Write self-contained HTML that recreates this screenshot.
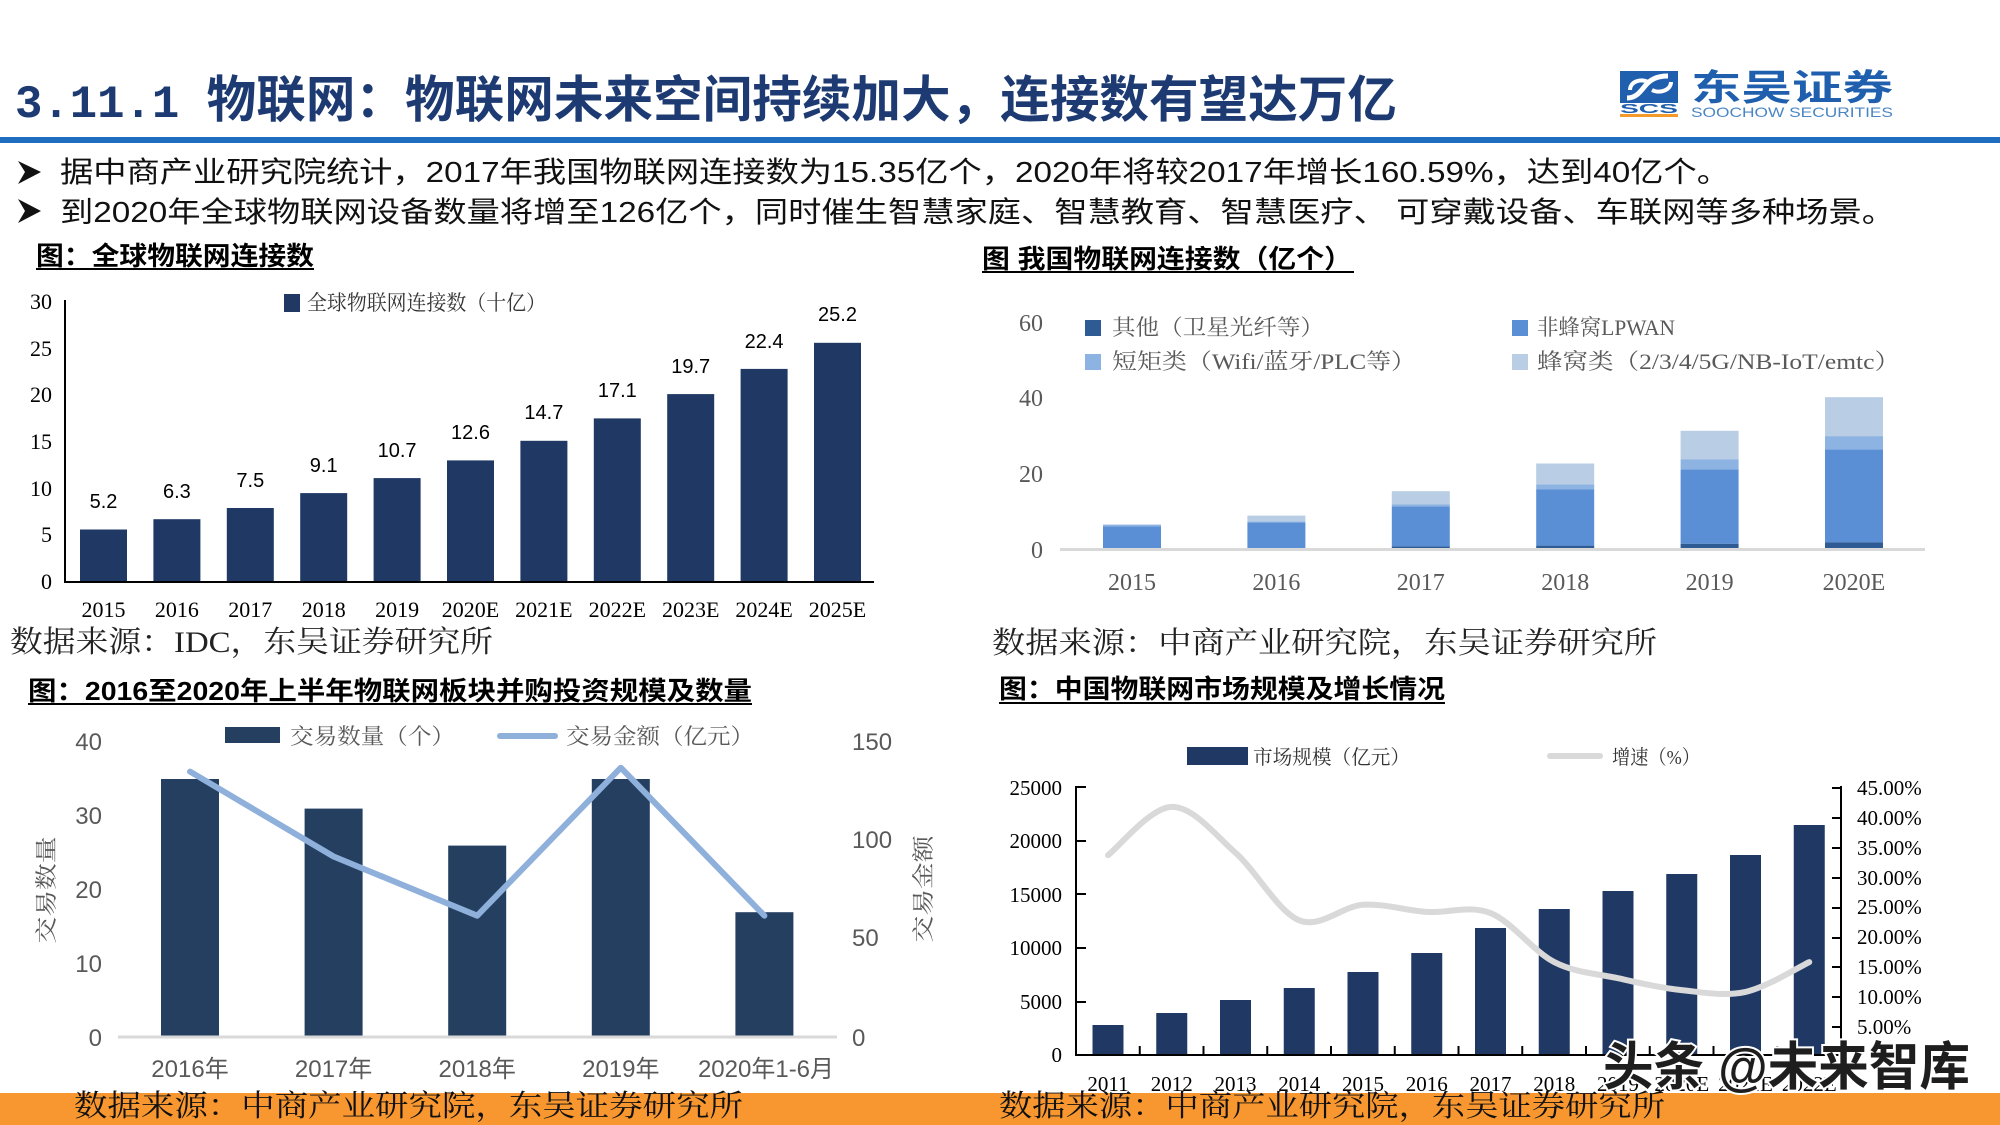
<!DOCTYPE html>
<html><head><meta charset="utf-8"><style>
html,body{margin:0;padding:0;background:#fff;}
svg{display:block;}
.sans{font-family:"Liberation Sans","Noto Sans CJK SC",sans-serif;}
.serif{font-family:"Liberation Serif","Noto Serif CJK SC",serif;}
</style></head><body>
<svg width="2000" height="1125" viewBox="0 0 2000 1125" xmlns="http://www.w3.org/2000/svg">
<rect x="0" y="0" width="2000" height="1125" fill="#fff"/>

<!-- Header -->
<text x="15" y="117" class="sans" font-size="50" font-weight="bold" fill="#1d3b72" textLength="1382" lengthAdjust="spacingAndGlyphs"><tspan font-family="Liberation Mono, monospace" font-size="46">3.11.1 </tspan>物联网：物联网未来空间持续加大，连接数有望达万亿</text>
<rect x="0" y="137" width="2000" height="6" fill="#1f6ebf"/>

<!-- Logo -->
<rect x="1620" y="71" width="58" height="32" fill="#1f5fae"/>
<path d="M1627,98 C1636,98 1640,92 1645,86 C1650,80 1656,76 1668,76" stroke="#fff" stroke-width="5" fill="none"/>
<path d="M1630,90 C1630,82 1640,78 1648,82 M1652,90 C1660,94 1671,90 1671,82" stroke="#fff" stroke-width="4" fill="none"/>
<text x="1620" y="113" class="sans" font-size="13" font-weight="bold" fill="#1f5fae" textLength="58" lengthAdjust="spacingAndGlyphs">SCS</text>
<rect x="1620" y="114" width="58" height="3" fill="#f39a2b"/>
<text x="1691" y="100" class="sans" font-size="36" font-weight="bold" fill="#1f5fae" textLength="202" lengthAdjust="spacingAndGlyphs">东吴证券</text>
<text x="1691" y="117" class="sans" font-size="14" fill="#4a86c5" textLength="202" lengthAdjust="spacingAndGlyphs">SOOCHOW SECURITIES</text>

<!-- Bullets -->
<polygon points="18,161 41,172 18,184 25,172" fill="#111"/>
<polygon points="18,199 41,211 18,223 25,211" fill="#111"/>
<text x="60" y="182" class="sans" font-size="29" fill="#111" textLength="1670" lengthAdjust="spacingAndGlyphs">据中商产业研究院统计，2017年我国物联网连接数为15.35亿个，2020年将较2017年增长160.59%，达到40亿个。</text>
<text x="60" y="222" class="sans" font-size="29" fill="#111" textLength="1835" lengthAdjust="spacingAndGlyphs">到2020年全球物联网设备数量将增至126亿个，同时催生智慧家庭、智慧教育、智慧医疗、 可穿戴设备、车联网等多种场景。</text>

<!-- Section headings -->
<text x="36" y="265" class="sans" font-size="26" font-weight="bold" fill="#000" textLength="278" lengthAdjust="spacingAndGlyphs">图：全球物联网连接数</text>
<rect x="36" y="268" width="278" height="2" fill="#000"/>
<text x="982" y="268" class="sans" font-size="26" font-weight="bold" fill="#000" textLength="370" lengthAdjust="spacingAndGlyphs">图 我国物联网连接数（亿个）</text>
<rect x="982" y="271" width="372" height="2" fill="#000"/>
<text x="28" y="700" class="sans" font-size="26" font-weight="bold" fill="#000" textLength="724" lengthAdjust="spacingAndGlyphs">图：2016至2020年上半年物联网板块并购投资规模及数量</text>
<rect x="28" y="703" width="724" height="2" fill="#000"/>
<text x="999" y="698" class="sans" font-size="26" font-weight="bold" fill="#000" textLength="446" lengthAdjust="spacingAndGlyphs">图：中国物联网市场规模及增长情况</text>
<rect x="999" y="702" width="446" height="2" fill="#000"/>

<!-- ===== Top-left chart ===== -->
<g class="serif" font-size="22" fill="#000" text-anchor="end">
<text x="52" y="589">0</text>
<text x="52" y="542">5</text>
<text x="52" y="496">10</text>
<text x="52" y="449">15</text>
<text x="52" y="402">20</text>
<text x="52" y="356">25</text>
<text x="52" y="309">30</text>
</g>
<g fill="#1f3864">
<rect x="80" y="529.5" width="47" height="52.5"/>
<rect x="153.4" y="519.2" width="47" height="62.8"/>
<rect x="226.8" y="508" width="47" height="74"/>
<rect x="300.2" y="493.1" width="47" height="88.9"/>
<rect x="373.6" y="478.1" width="47" height="103.9"/>
<rect x="447" y="460.4" width="47" height="121.6"/>
<rect x="520.4" y="440.8" width="47" height="141.2"/>
<rect x="593.8" y="418.4" width="47" height="163.6"/>
<rect x="667.2" y="394.1" width="47" height="187.9"/>
<rect x="740.6" y="368.9" width="47" height="213.1"/>
<rect x="814" y="342.8" width="47" height="239.2"/>
</g>
<line x1="65" y1="300" x2="65" y2="583" stroke="#000" stroke-width="2"/>
<line x1="64" y1="582" x2="874" y2="582" stroke="#000" stroke-width="2"/>
<g class="sans" font-size="20" fill="#000" text-anchor="middle">
<text x="103.5" y="508">5.2</text>
<text x="176.9" y="498">6.3</text>
<text x="250.3" y="487">7.5</text>
<text x="323.7" y="472">9.1</text>
<text x="397.1" y="457">10.7</text>
<text x="470.5" y="439">12.6</text>
<text x="543.9" y="419">14.7</text>
<text x="617.3" y="397">17.1</text>
<text x="690.7" y="373">19.7</text>
<text x="764.1" y="348">22.4</text>
<text x="837.5" y="321">25.2</text>
</g>
<g class="serif" font-size="22" fill="#000" text-anchor="middle">
<text x="103.5" y="617">2015</text>
<text x="176.9" y="617">2016</text>
<text x="250.3" y="617">2017</text>
<text x="323.7" y="617">2018</text>
<text x="397.1" y="617">2019</text>
<text x="470.5" y="617">2020E</text>
<text x="543.9" y="617">2021E</text>
<text x="617.3" y="617">2022E</text>
<text x="690.7" y="617">2023E</text>
<text x="764.1" y="617">2024E</text>
<text x="837.5" y="617">2025E</text>
</g>
<rect x="284" y="294" width="16" height="18" fill="#1f3864"/>
<text x="307" y="310" class="serif" font-size="21" fill="#333" textLength="239" lengthAdjust="spacingAndGlyphs">全球物联网连接数（十亿）</text>
<text x="10" y="652" class="serif" font-size="30" fill="#222" textLength="483" lengthAdjust="spacingAndGlyphs">数据来源：IDC，东吴证券研究所</text>

<!-- ===== Top-right chart ===== -->
<g class="serif" font-size="24" fill="#595959" text-anchor="end">
<text x="1043" y="558">0</text>
<text x="1043" y="482">20</text>
<text x="1043" y="406">40</text>
<text x="1043" y="331">60</text>
</g>
<g>
<rect x="1103" y="526.4" width="58" height="22.6" fill="#5b8fd5"/>
<rect x="1103" y="524.6" width="58" height="1.8" fill="#8db3e2"/>

<rect x="1247.4" y="522.3" width="58" height="26.7" fill="#5b8fd5"/>
<rect x="1247.4" y="521.3" width="58" height="1" fill="#8db3e2"/>
<rect x="1247.4" y="515.6" width="58" height="5.7" fill="#b9cde5"/>

<rect x="1391.8" y="546.4" width="58" height="2.6" fill="#2e5b94"/>
<rect x="1391.8" y="506.3" width="58" height="40.1" fill="#5b8fd5"/>
<rect x="1391.8" y="504.5" width="58" height="1.8" fill="#8db3e2"/>
<rect x="1391.8" y="491.2" width="58" height="13.3" fill="#b9cde5"/>

<rect x="1536.2" y="545.6" width="58" height="3.4" fill="#2e5b94"/>
<rect x="1536.2" y="489.5" width="58" height="56.1" fill="#5b8fd5"/>
<rect x="1536.2" y="484.4" width="58" height="5.1" fill="#8db3e2"/>
<rect x="1536.2" y="463.5" width="58" height="20.9" fill="#b9cde5"/>

<rect x="1680.6" y="543.7" width="58" height="5.3" fill="#2e5b94"/>
<rect x="1680.6" y="469.3" width="58" height="74.4" fill="#5b8fd5"/>
<rect x="1680.6" y="459.5" width="58" height="9.8" fill="#8db3e2"/>
<rect x="1680.6" y="430.8" width="58" height="28.7" fill="#b9cde5"/>

<rect x="1825" y="542.2" width="58" height="6.8" fill="#2e5b94"/>
<rect x="1825" y="449.3" width="58" height="92.9" fill="#5b8fd5"/>
<rect x="1825" y="436.1" width="58" height="13.2" fill="#8db3e2"/>
<rect x="1825" y="397.2" width="58" height="38.9" fill="#b9cde5"/>
</g>
<rect x="1060" y="548" width="865" height="3" fill="#d9d9d9"/>
<g class="serif" font-size="24" fill="#595959" text-anchor="middle">
<text x="1132" y="590">2015</text>
<text x="1276.4" y="590">2016</text>
<text x="1420.8" y="590">2017</text>
<text x="1565.2" y="590">2018</text>
<text x="1709.6" y="590">2019</text>
<text x="1854" y="590">2020E</text>
</g>
<rect x="1085" y="320" width="16" height="16" fill="#2e5b94"/>
<rect x="1085" y="354" width="16" height="16" fill="#8db3e2"/>
<rect x="1512" y="320" width="16" height="16" fill="#5b8fd5"/>
<rect x="1512" y="354" width="16" height="16" fill="#b9cde5"/>
<g class="serif" font-size="22" fill="#595959">
<text x="1112" y="335" textLength="212" lengthAdjust="spacingAndGlyphs">其他（卫星光纤等）</text>
<text x="1112" y="369" textLength="304" lengthAdjust="spacingAndGlyphs">短矩类（Wifi/蓝牙/PLC等）</text>
<text x="1537" y="335" textLength="138" lengthAdjust="spacingAndGlyphs">非蜂窝LPWAN</text>
<text x="1537" y="369" textLength="363" lengthAdjust="spacingAndGlyphs">蜂窝类（2/3/4/5G/NB-IoT/emtc）</text>
</g>
<text x="992" y="653" class="serif" font-size="30" fill="#222" textLength="665" lengthAdjust="spacingAndGlyphs">数据来源：中商产业研究院，东吴证券研究所</text>

<!-- ===== Bottom-left chart ===== -->
<rect x="225" y="727" width="55" height="16" fill="#243f60"/>
<text x="290" y="744" class="serif" font-size="22" fill="#595959" textLength="165" lengthAdjust="spacingAndGlyphs">交易数量（个）</text>
<line x1="500" y1="736" x2="555" y2="736" stroke="#8eb0da" stroke-width="6" stroke-linecap="round"/>
<text x="566" y="744" class="serif" font-size="22" fill="#595959" textLength="188" lengthAdjust="spacingAndGlyphs">交易金额（亿元）</text>
<g class="sans" font-size="24" fill="#595959" text-anchor="end">
<text x="102" y="750">40</text>
<text x="102" y="824">30</text>
<text x="102" y="898">20</text>
<text x="102" y="972">10</text>
<text x="102" y="1046">0</text>
</g>
<g class="sans" font-size="24" fill="#595959">
<text x="852" y="750">150</text>
<text x="852" y="848">100</text>
<text x="852" y="946">50</text>
<text x="852" y="1046">0</text>
</g>
<text transform="translate(54,890) rotate(-90)" text-anchor="middle" class="serif" font-size="22" fill="#595959" textLength="107" lengthAdjust="spacingAndGlyphs">交易数量</text>
<text transform="translate(931,889) rotate(-90)" text-anchor="middle" class="serif" font-size="22" fill="#595959" textLength="107" lengthAdjust="spacingAndGlyphs">交易金额</text>
<g fill="#243f60">
<rect x="161" y="779" width="58" height="257"/>
<rect x="304.6" y="808.6" width="58" height="227.4"/>
<rect x="448.2" y="845.6" width="58" height="190.4"/>
<rect x="591.8" y="779" width="58" height="257"/>
<rect x="735.4" y="912.2" width="58" height="123.8"/>
</g>
<line x1="118" y1="1037" x2="837" y2="1037" stroke="#d9d9d9" stroke-width="3"/>
<polyline points="190,771.6 333.6,856.5 477.2,915.7 620.8,767.7 764.4,915.7" fill="none" stroke="#8eb0da" stroke-width="6" stroke-linejoin="round" stroke-linecap="round"/>
<g class="sans" font-size="24" fill="#595959" text-anchor="middle">
<text x="190" y="1077">2016年</text>
<text x="333.6" y="1077">2017年</text>
<text x="477.2" y="1077">2018年</text>
<text x="620.8" y="1077">2019年</text>
<text x="766" y="1077">2020年1-6月</text>
</g>

<!-- ===== Bottom-right chart ===== -->
<rect x="1187" y="747" width="61" height="18" fill="#1f3864"/>
<text x="1253" y="764" class="serif" font-size="20" fill="#333" textLength="157" lengthAdjust="spacingAndGlyphs">市场规模（亿元）</text>
<line x1="1550" y1="756" x2="1600" y2="756" stroke="#d9d9d9" stroke-width="6" stroke-linecap="round"/>
<text x="1612" y="764" class="serif" font-size="20" fill="#333" textLength="88" lengthAdjust="spacingAndGlyphs">增速（%）</text>
<g class="serif" font-size="21" fill="#000" text-anchor="end">
<text x="1062" y="795">25000</text>
<text x="1062" y="848">20000</text>
<text x="1062" y="902">15000</text>
<text x="1062" y="955">10000</text>
<text x="1062" y="1009">5000</text>
<text x="1062" y="1062">0</text>
</g>
<g class="serif" font-size="21" fill="#000">
<text x="1857" y="795">45.00%</text>
<text x="1857" y="825">40.00%</text>
<text x="1857" y="855">35.00%</text>
<text x="1857" y="885">30.00%</text>
<text x="1857" y="914">25.00%</text>
<text x="1857" y="944">20.00%</text>
<text x="1857" y="974">15.00%</text>
<text x="1857" y="1004">10.00%</text>
<text x="1857" y="1034">5.00%</text>
</g>
<g fill="#1f3864">
<rect x="1092.5" y="1025" width="31" height="30"/>
<rect x="1156.25" y="1013" width="31" height="42"/>
<rect x="1220" y="1000" width="31" height="55"/>
<rect x="1283.75" y="988" width="31" height="67"/>
<rect x="1347.5" y="972" width="31" height="83"/>
<rect x="1411.25" y="953" width="31" height="102"/>
<rect x="1475" y="928" width="31" height="127"/>
<rect x="1538.75" y="909" width="31" height="146"/>
<rect x="1602.5" y="891" width="31" height="164"/>
<rect x="1666.25" y="874" width="31" height="181"/>
<rect x="1730" y="855" width="31" height="200"/>
<rect x="1793.75" y="825" width="31" height="230"/>
</g>
<path d="M1108,855.2 C1118.63,847.15 1150.5,807.3 1171.75,806.9 C1193,806.5 1214.25,833.9 1235.5,852.8 C1256.75,871.7 1278,911.63 1299.25,920.3 C1320.5,928.97 1341.75,906.2 1363,904.8 C1384.25,903.4 1405.5,910.52 1426.75,911.9 C1448,913.28 1469.25,904.73 1490.5,913.1 C1511.75,921.47 1533,951.25 1554.25,962.1 C1575.5,972.95 1596.75,973.53 1618,978.2 C1639.25,982.87 1660.5,987.82 1681.75,990.1 C1703,992.38 1724.25,996.57 1745.5,991.9 C1766.75,987.23 1798.63,967.07 1809.25,962.1" fill="none" stroke="#d9d9d9" stroke-width="6" stroke-linecap="round"/>
<g stroke="#000" stroke-width="2" fill="none">
<line x1="1076" y1="786" x2="1076" y2="1056"/>
<line x1="1841" y1="786" x2="1841" y2="1056"/>
<line x1="1075" y1="1055" x2="1842" y2="1055"/>
<path d="M1076,787h10 M1076,841h10 M1076,894h10 M1076,948h10 M1076,1002h10"/>
<path d="M1841,788h-9 M1841,818h-9 M1841,848h-9 M1841,878h-9 M1841,908h-9 M1841,938h-9 M1841,967h-9 M1841,997h-9 M1841,1027h-9"/>
<path d="M1139.75,1055v-9 M1203.5,1055v-9 M1267.25,1055v-9 M1331,1055v-9 M1394.75,1055v-9 M1458.5,1055v-9 M1522.25,1055v-9 M1586,1055v-9 M1649.75,1055v-9 M1713.5,1055v-9 M1777.25,1055v-9"/>
</g>

<!-- Footer band -->
<rect x="0" y="1093" width="2000" height="32" fill="#f8972f"/>

<g class="serif" font-size="21" fill="#000" text-anchor="middle">
<text x="1108" y="1091">2011</text>
<text x="1171.75" y="1091">2012</text>
<text x="1235.5" y="1091">2013</text>
<text x="1299.25" y="1091">2014</text>
<text x="1363" y="1091">2015</text>
<text x="1426.75" y="1091">2016</text>
<text x="1490.5" y="1091">2017</text>
<text x="1554.25" y="1091">2018</text>
<text x="1618" y="1091">2019</text>
<text x="1681.75" y="1091">2020E</text>
<text x="1745.5" y="1091">2021E</text>
<text x="1809.25" y="1091">2022E</text>
</g>

<text x="74" y="1116" class="serif" font-size="30" fill="#111" textLength="669" lengthAdjust="spacingAndGlyphs">数据来源：中商产业研究院，东吴证券研究所</text>
<text x="999" y="1116" class="serif" font-size="30" fill="#111" textLength="666" lengthAdjust="spacingAndGlyphs">数据来源：中商产业研究院，东吴证券研究所</text>

<!-- Watermark -->
<text x="1603" y="1085" class="sans" font-size="52" font-weight="bold" fill="#1e1e1e" stroke="#fff" stroke-width="4" paint-order="stroke" textLength="367" lengthAdjust="spacingAndGlyphs">头条 @未来智库</text>
</svg>
</body></html>
